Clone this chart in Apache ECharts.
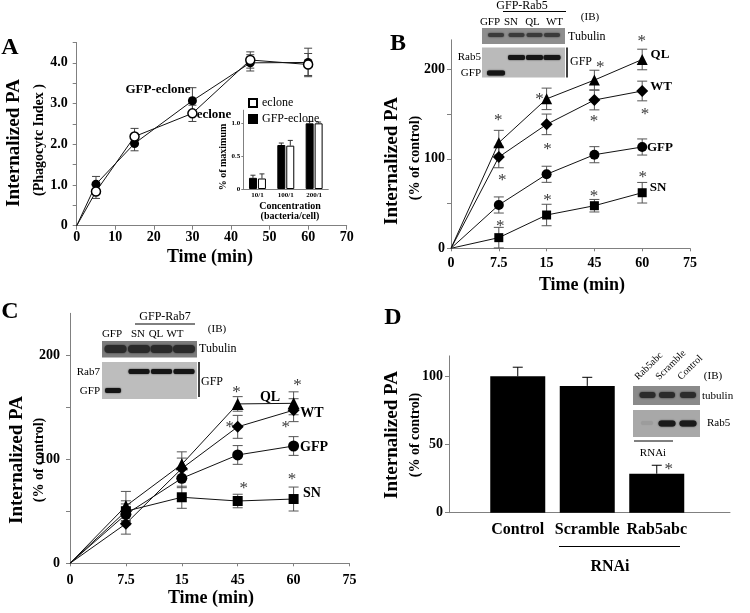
<!DOCTYPE html>
<html><head><meta charset="utf-8">
<script src="https://cdn.jsdelivr.net/npm/echarts@6/dist/echarts.min.js"></script>
<style>html,body{margin:0;padding:0;background:#fff}#c{width:750px;height:613px}</style>
</head><body><div id="c"></div>
<script>
// ---------------- DATA ----------------
// Panel A: time course (Phagocytic index)
const timeA = [0, 5, 15, 30, 45, 60];
const gfpEcloneA = [0, 1.02, 2.02, 3.07, 4.0, 4.01];
const gfpEcloneErrA = [0, 0.19, 0.18, 0.32, 0.2, 0.35];
const ecloneA = [0, 0.84, 2.19, 2.76, 4.07, 3.96];
const ecloneErrA = [0, 0.17, 0.2, 0.2, 0.2, 0.27];
const yTicksA = [0, 1, 2, 3, 4];
// Panel A inset
const concCats = ['10/1', '100/1', '200/1'];
const insetGfpEclone = [0.17, 0.67, 1.0];
const insetGfpEcloneErr = [0.04, 0.03, 0.03];
const insetEclone = [0.16, 0.66, 1.0];
const insetEcloneErr = [0.07, 0.08, 0.02];
const insetYTicks = [0, 0.5, 1.0];
// Panels B and C: categorical time axis
const timeLabels = ['0', '7.5', '15', '45', '60', '75'];
const timeIdx = [0, 1, 2, 3, 4];
const qlB = [0, 118, 167, 188, 211];
const qlErrB = [0, 13.8, 12, 11, 11.5];
const wtB = [0, 102, 138.5, 165.7, 175.8];
const wtErrB = [0, 12, 11.5, 11, 11];
const gfpB = [0, 48.4, 82.7, 104.6, 113.2];
const gfpErrB = [0, 9, 9, 9, 9];
const snB = [0, 11.9, 37.2, 47.6, 62.1];
const snErrB = [0, 11.5, 12, 7, 11.5];
const starsB = [[3.99, 236], [3.12, 207], [1.85, 171], [0.99, 147], [4.06, 154.5], [2.99, 146.4],
                [2.02, 115.4], [1.07, 80], [4.01, 83.8], [2.99, 62.6], [2.02, 57.7], [1.03, 28.6]];
const qlC = [0, 55, 95, 153, 153.6];
const qlErrC = [0, 14, 12, 7, 11];
const wtC = [0, 38, 91, 131, 147];
const wtErrC = [0, 10, 10, 11, 11];
const gfpC = [0, 47, 81.6, 104, 112.6];
const gfpErrC = [0, 10, 9, 9, 9];
const snC = [0, 50, 63.4, 59.8, 61.7];
const snErrC = [0, 10, 10.6, 6.5, 11.5];
const starsC = [[2.98, 168], [4.07, 174.4], [2.86, 134.4], [3.86, 133.8], [3.11, 75.9], [3.97, 83.8]];
const ticksBC = [0, 50, 100, 150, 200];
const labelsBC = [0, 100, 200];
// Panel D
const dCats = ['Control', 'Scramble', 'Rab5abc'];
const dVals = [100, 93, 28.6];
const dErr = [6.7, 6.3, 6.2];
const dStars = [['Rab5abc', 34.5]];
const ticksD = [0, 50, 100];

// ---------------- HELPERS ----------------
const SERIF = '"Liberation Serif","Times New Roman",serif';
const AX = '#808080';
function errItem(capHalf, dx, upperOnly, color) {
  return function (params, api) {
    const x = api.value(0), y = api.value(1), e = api.value(2);
    const top = api.coord([x, y + e]);
    const bot = api.coord([x, upperOnly ? y : y - e]);
    const cx = top[0] + dx;
    const st = { stroke: color, lineWidth: 1 };
    const ch = [
      { type: 'line', shape: { x1: cx, y1: top[1], x2: cx, y2: bot[1] }, style: st },
      { type: 'line', shape: { x1: cx - capHalf, y1: top[1], x2: cx + capHalf, y2: top[1] }, style: st }
    ];
    if (!upperOnly) ch.push({ type: 'line', shape: { x1: cx - capHalf, y1: bot[1], x2: cx + capHalf, y2: bot[1] }, style: st });
    return { type: 'group', children: ch };
  };
}
const errData = (xs, ys, es) => xs.map((x, i) => [x, ys[i], es[i]]).filter(d => d[2] > 0);
const lineData = (xs, ys) => xs.map((x, i) => i === 0 ? { value: [x, ys[i]], symbol: 'none' } : [x, ys[i]]);
function errSeries(xi, yi, data, cap, dx, upper, color) {
  return { type: 'custom', xAxisIndex: xi, yAxisIndex: yi, data: data, renderItem: errItem(cap, dx, upper, color || '#555'), z: 1, silent: true };
}
function lineSeries(name, xi, data, symbol, size, fill) {
  return { type: 'line', name: name, xAxisIndex: xi, yAxisIndex: xi, data: data, symbol: symbol, symbolSize: size,
    lineStyle: { color: '#111', width: 1 }, itemStyle: { color: fill || '#000', borderColor: '#000', borderWidth: fill ? 1.5 : 0 },
    z: 3, animation: false };
}
function starSeries(xi, yi, data) {
  return { type: 'scatter', xAxisIndex: xi, yAxisIndex: yi, data: data, symbol: 'circle', symbolSize: 1, clip: false,
    itemStyle: { color: 'rgba(0,0,0,0)' },
    label: { show: true, position: 'inside', formatter: '*', fontSize: 17, fontFamily: SERIF, color: '#000', offset: [0, 4] }, z: 4 };
}
const tickLabel = (size) => ({ color: '#000', fontFamily: SERIF, fontWeight: 'bold', fontSize: size });
function T(text, x, y, size, opts) {
  opts = opts || {};
  return { type: 'text', x: x, y: y, rotation: opts.rot || 0, z: 50,
    style: { text: text, fill: '#000', fontFamily: SERIF, fontSize: size, fontWeight: opts.bold === false ? 'normal' : 'bold',
      align: opts.align || 'center', verticalAlign: opts.va || 'middle' } };
}
function L(x1, y1, x2, y2, w) {
  return { type: 'line', z: 50, shape: { x1: x1, y1: y1, x2: x2, y2: y2 }, style: { stroke: '#000', lineWidth: w || 1 } };
}
function R(x, y, w, h, fill, r, blur) {
  return { type: 'rect', z: 49, shape: { x: x, y: y, width: w, height: h, r: r || 0 },
    style: { fill: fill, shadowBlur: blur || 0, shadowColor: fill } };
}

// ---------------- ANNOTATIONS (texts, blots) ----------------
const g = [];
// panel letters
g.push(T('A', 10, 48, 24), T('B', 398, 44, 24), T('C', 10, 312, 24), T('D', 393, 318, 24));
// y titles
const ROT = Math.PI / 2;
g.push(T('Internalized PA', 14, 143, 19, { rot: ROT }), T('(Phagocytc Index )', 39, 140, 14, { rot: ROT }));
g.push(T('Internalized PA', 392, 161, 19, { rot: ROT }), T('(% of control)', 415, 158, 14, { rot: ROT }));
g.push(T('Internalized PA', 17, 460, 19, { rot: ROT }), T('(% of control)', 39, 460, 14, { rot: ROT }));
g.push(T('Internalized PA', 392, 435, 19, { rot: ROT }), T('(% of control)', 415, 435, 14, { rot: ROT }));
// x titles
g.push(T('Time (min)', 210, 257, 18), T('Time (min)', 582, 285, 18), T('Time (min)', 211, 598, 18));
// series labels
g.push(T('GFP-eclone', 158, 90, 13), T('eclone', 214, 115, 13));
g.push(T('QL', 660, 55, 13), T('WT', 661, 87, 13), T('GFP', 660, 148, 13), T('SN', 658, 188, 13));
g.push(T('QL', 270, 397, 14), T('WT', 312, 413, 14), T('GFP', 314, 447, 14), T('SN', 312, 493, 14));
// inset A titles
g.push(T('% of maximum', 223, 157, 10, { rot: ROT }), T('Concentration', 290, 206, 10), T('(bacteria/cell)', 290, 216, 10));
// D RNAi
g.push(L(559, 546.5, 680, 546.5, 1), T('RNAi', 610, 567, 16));

// Blot B
g.push(T('GFP-Rab5', 522, 6, 12, { bold: false }), L(503, 11.5, 566, 11.5, 1));
g.push(T('GFP', 490, 22, 11, { bold: false }), T('SN', 511, 22, 11, { bold: false }), T('QL', 532.5, 22, 11, { bold: false }), T('WT', 554.5, 22, 11, { bold: false }));
g.push(T('(IB)', 590, 17, 11, { bold: false }));
g.push(R(482, 28, 83, 16, '#8e8e8e'));
[496, 516.5, 534.5, 552].forEach(c => g.push(R(c - 8, 33, 16, 4, '#3a3a3a', 2, 2)));
g.push(T('Tubulin', 568, 37, 12, { bold: false, align: 'left' }));
g.push(R(482, 47.5, 83, 30, '#bababa'));
[516.5, 534.5, 552].forEach(c => g.push(R(c - 8.5, 55, 17, 5, '#151515', 2, 1.5)));
g.push(R(487, 70.5, 18, 5, '#151515', 2, 1.5));
g.push(T('Rab5', 481, 57, 11, { bold: false, align: 'right' }), T('GFP', 481, 73, 11, { bold: false, align: 'right' }));
g.push(L(567, 47.5, 567, 77.5, 1.5), T('GFP', 570, 62, 12, { bold: false, align: 'left' }));

// Blot C
g.push(T('GFP-Rab7', 165, 317, 12, { bold: false }), L(135, 324, 195, 324, 1));
g.push(T('GFP', 112, 334, 11, { bold: false }), T('SN', 138, 334, 11, { bold: false }), T('QL', 156, 334, 11, { bold: false }), T('WT', 175, 334, 11, { bold: false }));
g.push(T('(IB)', 217, 329, 11, { bold: false }));
g.push(R(102, 341, 95, 16.5, '#7c7c7c'));
[115.5, 139, 161.5, 184].forEach(c => g.push(R(c - 11, 345, 22, 8, '#2a2a2a', 4, 2)));
g.push(T('Tubulin', 199, 349, 12, { bold: false, align: 'left' }));
g.push(R(102, 362, 95, 37, '#bdbdbd'));
[139, 161.5, 184].forEach(c => g.push(R(c - 10.5, 369, 21, 5, '#151515', 2, 1.5)));
g.push(R(105, 388, 16, 5, '#151515', 2, 1.5));
g.push(T('Rab7', 100, 372, 11, { bold: false, align: 'right' }), T('GFP', 100, 391, 11, { bold: false, align: 'right' }));
g.push(L(199, 362, 199, 397, 1.5), T('GFP', 201, 382, 12, { bold: false, align: 'left' }));

// Blot D
const rot45 = Math.PI / 4;
g.push(T('Rab5abc', 640, 382, 10, { bold: false, rot: rot45, align: 'left', va: 'bottom' }));
g.push(T('Scramble', 661, 382, 10, { bold: false, rot: rot45, align: 'left', va: 'bottom' }));
g.push(T('Control', 683, 382, 10, { bold: false, rot: rot45, align: 'left', va: 'bottom' }));
g.push(T('(IB)', 713, 376, 11, { bold: false }));
g.push(R(633, 386, 67, 19, '#8a8a8a'));
[647.5, 667, 688].forEach(c => g.push(R(c - 8, 392, 16, 6, '#2b2b2b', 3, 2)));
g.push(T('tubulin', 702, 396, 11, { bold: false, align: 'left' }));
g.push(R(633, 410, 67, 27, '#a8a8a8'));
g.push(R(641, 421, 12, 4, '#9c9c9c', 2, 1));
[667, 688].forEach(c => g.push(R(c - 8.5, 420.5, 17, 6, '#1a1a1a', 3, 1.5)));
g.push(T('Rab5', 707, 423, 11, { bold: false, align: 'left' }));
g.push(L(634, 441, 673, 441, 1), T('RNAi', 653, 453, 11, { bold: false }));

// ---------------- OPTION ----------------
const axLine = { lineStyle: { color: AX, width: 1 } };
const option = {
  backgroundColor: '#fff',
  animation: false,
  legend: {
    data: ['eclone', 'GFP-eclone'], left: 248, top: 97, orient: 'vertical', itemWidth: 8, itemHeight: 8, itemGap: 4,
    padding: 0, selectedMode: false, icon: 'rect',
    textStyle: { fontFamily: SERIF, fontSize: 12, color: '#000' }
  },
  grid: [
    { left: 76.7, top: 42.5, width: 270, height: 183.2, outerBoundsMode: 'none' },
    { left: 243.3, top: 110.2, width: 85, height: 78.8, outerBoundsMode: 'none' },
    { left: 451, top: 39.8, width: 239, height: 208.5, outerBoundsMode: 'none' },
    { left: 70, top: 313.3, width: 279.5, height: 250, outerBoundsMode: 'none' },
    { left: 449, top: 355.9, width: 281, height: 156.8, outerBoundsMode: 'none' },
    { left: 483, top: 355.9, width: 208.5, height: 156.8, outerBoundsMode: 'none' }
  ],
  xAxis: [
    { gridIndex: 0, type: 'value', min: 0, max: 70, interval: 10, axisLine: axLine,
      axisTick: { length: 4, lineStyle: { color: AX } }, axisLabel: Object.assign(tickLabel(14), { margin: 5 }), splitLine: { show: false } },
    { gridIndex: 1, type: 'category', data: concCats, axisLine: axLine, axisTick: { length: 2, lineStyle: { color: AX } },
      axisLabel: Object.assign(tickLabel(7), { margin: 3, interval: 0 }) },
    { gridIndex: 2, type: 'value', min: 0, max: 5, interval: 1, axisLine: axLine, axisTick: { length: 3, lineStyle: { color: AX } },
      axisLabel: Object.assign(tickLabel(14), { margin: 8, formatter: v => timeLabels[v] }), splitLine: { show: false } },
    { gridIndex: 3, type: 'value', min: 0, max: 5, interval: 1, axisLine: axLine, axisTick: { length: 3, lineStyle: { color: AX } },
      axisLabel: Object.assign(tickLabel(14), { margin: 10, formatter: v => timeLabels[v] }), splitLine: { show: false } },
    { gridIndex: 4, type: 'value', min: 0, max: 1, axisLine: axLine, axisTick: { show: false }, axisLabel: { show: false }, splitLine: { show: false } },
    { gridIndex: 5, type: 'category', data: dCats, axisLine: { show: false }, axisTick: { show: false },
      axisLabel: Object.assign(tickLabel(16), { margin: 9, interval: 0, hideOverlap: false }) }
  ],
  yAxis: [
    { gridIndex: 0, type: 'value', min: 0, max: 4.5, interval: 0.5, axisLine: { show: true, lineStyle: { color: AX } },
      axisTick: { show: true, length: 4, lineStyle: { color: AX } }, splitLine: { show: false },
      axisLabel: Object.assign(tickLabel(14), { margin: 9, customValues: yTicksA, formatter: v => v === 0 ? '0' : v.toFixed(1) }) },
    { gridIndex: 1, type: 'value', min: 0, max: 1.2, axisLine: { show: true, lineStyle: { color: AX } },
      axisTick: { show: true, length: 2, customValues: insetYTicks, lineStyle: { color: AX } }, splitLine: { show: false },
      axisLabel: Object.assign(tickLabel(7), { margin: 3, customValues: insetYTicks, formatter: v => v === 0 ? '0' : v.toFixed(1) }) },
    { gridIndex: 2, type: 'value', min: 0, max: 233, axisLine: { show: true, lineStyle: { color: AX } },
      axisTick: { show: true, length: 4, customValues: ticksBC, lineStyle: { color: AX } }, splitLine: { show: false },
      axisLabel: Object.assign(tickLabel(14), { margin: 6, customValues: labelsBC }) },
    { gridIndex: 3, type: 'value', min: 0, max: 240, axisLine: { show: true, lineStyle: { color: AX } },
      axisTick: { show: true, length: 4, customValues: ticksBC, lineStyle: { color: AX } }, splitLine: { show: false },
      axisLabel: Object.assign(tickLabel(14), { margin: 10, customValues: labelsBC }) },
    { gridIndex: 4, type: 'value', min: 0, max: 115, axisLine: { show: true, lineStyle: { color: AX } },
      axisTick: { show: true, length: 4, customValues: ticksD, lineStyle: { color: AX } }, splitLine: { show: false },
      axisLabel: Object.assign(tickLabel(14), { margin: 6, customValues: ticksD }) },
    { gridIndex: 5, type: 'value', min: 0, max: 115, show: false }
  ],
  series: [
    // Panel A
    errSeries(0, 0, errData(timeA, gfpEcloneA, gfpEcloneErrA), 4, 0, false, '#444'),
    errSeries(0, 0, errData(timeA, ecloneA, ecloneErrA), 4, 0, false, '#444'),
    lineSeries('GFP-eclone (time)', 0, lineData(timeA, gfpEcloneA), 'circle', 9),
    lineSeries('eclone (time)', 0, lineData(timeA, ecloneA), 'circle', 9, '#fff'),
    // Panel A inset
    { type: 'bar', name: 'GFP-eclone', xAxisIndex: 1, yAxisIndex: 1, data: insetGfpEclone, barWidth: 8, barGap: '12%',
      itemStyle: { color: '#000', borderColor: '#000', borderWidth: 1 } },
    { type: 'bar', name: 'eclone', xAxisIndex: 1, yAxisIndex: 1, data: insetEclone, barWidth: 8,
      itemStyle: { color: '#fff', borderColor: '#000', borderWidth: 1 } },
    errSeries(1, 1, errData([0, 1, 2], insetGfpEclone, insetGfpEcloneErr), 2.5, -4.5, true, '#333'),
    errSeries(1, 1, errData([0, 1, 2], insetEclone, insetEcloneErr), 2.5, 4.5, true, '#333'),
    // Panel B
    errSeries(2, 2, errData(timeIdx, qlB, qlErrB), 5, 0, false),
    errSeries(2, 2, errData(timeIdx, wtB, wtErrB), 5, 0, false),
    errSeries(2, 2, errData(timeIdx, gfpB, gfpErrB), 5, 0, false),
    errSeries(2, 2, errData(timeIdx, snB, snErrB), 5, 0, false),
    lineSeries('QL B', 2, lineData(timeIdx, qlB), 'triangle', 11),
    lineSeries('WT B', 2, lineData(timeIdx, wtB), 'diamond', 12),
    lineSeries('GFP B', 2, lineData(timeIdx, gfpB), 'circle', 10),
    lineSeries('SN B', 2, lineData(timeIdx, snB), 'rect', 9),
    starSeries(2, 2, starsB),
    // Panel C
    errSeries(3, 3, errData(timeIdx, qlC, qlErrC), 5, 0, false),
    errSeries(3, 3, errData(timeIdx, wtC, wtErrC), 5, 0, false),
    errSeries(3, 3, errData(timeIdx, gfpC, gfpErrC), 5, 0, false),
    errSeries(3, 3, errData(timeIdx, snC, snErrC), 5, 0, false),
    lineSeries('QL C', 3, lineData(timeIdx, qlC), 'triangle', 12),
    lineSeries('WT C', 3, lineData(timeIdx, wtC), 'diamond', 12),
    lineSeries('GFP C', 3, lineData(timeIdx, gfpC), 'circle', 11),
    lineSeries('SN C', 3, lineData(timeIdx, snC), 'rect', 10),
    starSeries(3, 3, starsC),
    // Panel D
    { type: 'bar', name: 'D', xAxisIndex: 5, yAxisIndex: 5, data: dVals, barWidth: 55, itemStyle: { color: '#000' } },
    errSeries(5, 5, errData([0, 1, 2], dVals, dErr), 5, 0, true, '#000'),
    Object.assign(starSeries(5, 5, dStars), { label: { show: true, position: 'inside', formatter: '*', fontSize: 17, fontFamily: SERIF, color: '#000', offset: [12, 4] } })
  ],
  graphic: { elements: g }
};
const chart = echarts.init(document.getElementById('c'), null, { renderer: 'canvas' });
chart.setOption(option);
</script></body></html>
